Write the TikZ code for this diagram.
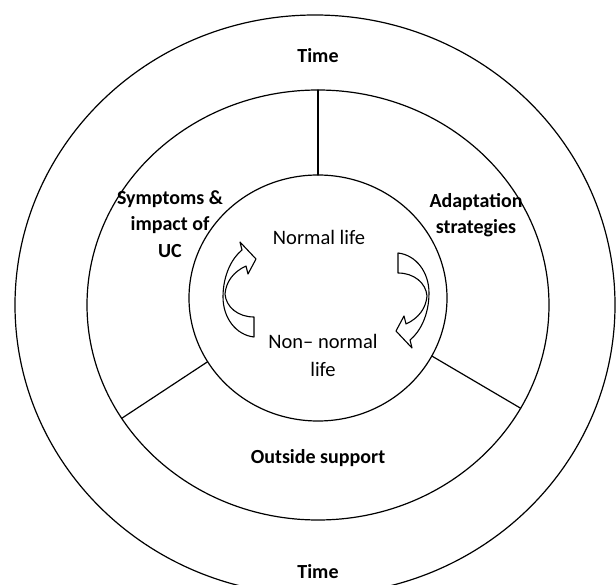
\documentclass[tikz,border=0pt]{standalone}
\usepackage{fontspec}
\setmainfont{Carlito}
\usetikzlibrary{shapes.geometric}

\tikzset{
  ring/.style={draw,ellipse,line width=1.2pt,inner sep=0pt,outer sep=0pt},
  spoke/.style={line width=1.2pt},
  lbl/.style={font=\fontsize{20}{26.5}\selectfont\bfseries,align=center},
  life/.style={font=\fontsize{20.5}{28}\selectfont,align=center},
  cycarrow/.pic={
    \draw[line width=1.1pt,fill=white] (14,47) .. controls (-4,45) and (-17,28) .. (-17,7)
      .. controls (-17,-15) and (-8,-32) .. (2,-40) -- (0,-48) -- (16,-31) -- (8,-16) -- (6,-24)
      .. controls (-7,-18) and (-14,-8) .. (-15,4) .. controls (-14,17) and (-2,27) .. (14,27) -- cycle;
  }
}

\begin{document}
\begin{tikzpicture}[line cap=round,line join=round,x=1pt,y=-1pt]
\useasboundingbox (0,0) rectangle (616,585);
\clip (0,0) rectangle (616,585);
% rings
\node[ring,minimum width=600pt,minimum height=580pt] (outer) at (315,305) {};
\node[ring,minimum width=462pt,minimum height=430pt] (mid) at (318,305) {};
\node[ring,minimum width=258pt,minimum height=246pt] (core) at (318,298) {};
% spokes
\draw[spoke] (core.90) -- (mid.90);
\draw[spoke] (core.210) -- (mid.210);
\draw[spoke] (core.333) -- (mid.333);
% labels
\node[lbl] (timeT) at (318,56) {Time};
\node[lbl] (timeB) at (318,572) {Time};
\node[lbl] (sympt) at (170,224) {Symptoms \&\\impact of\\UC};
\node[lbl] (adapt) at (476,215) {Adaptation\\strategies};
\node[lbl] (outs) at (318,458) {Outside support};
\node[life] (norm) at (319,237) {Normal life};
\node[life] (nonnorm) at (323,355) {Non– normal\\life};
% arrows
\pic at (240,290) {cycarrow};
\pic[rotate=180] at (412,300) {cycarrow};
\end{tikzpicture}
\end{document}
